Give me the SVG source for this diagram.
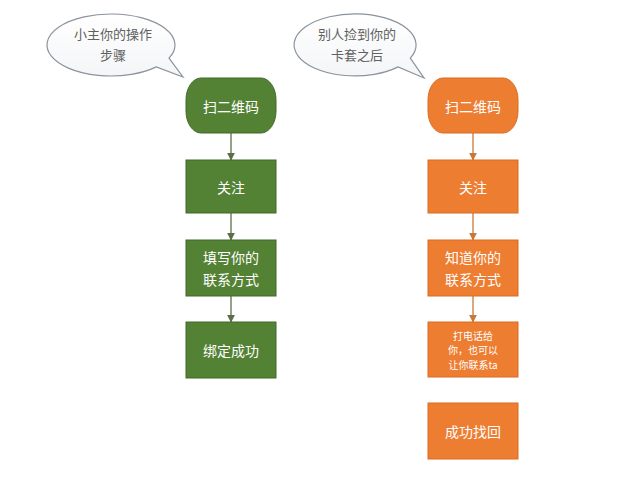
<svg xmlns="http://www.w3.org/2000/svg" width="640" height="480" viewBox="0 0 640 480">
<defs>
<linearGradient id="bub" x1="0" y1="0" x2="0" y2="1">
<stop offset="0" stop-color="#ffffff"/>
<stop offset="1" stop-color="#f4f5f7"/>
</linearGradient>
<marker id="ag" viewBox="0 0 10 10" refX="9" refY="5" markerWidth="8" markerHeight="8" markerUnits="userSpaceOnUse" orient="auto">
<path d="M0,0 L10,5 L0,10 Z" fill="#5b6e48"/>
</marker>
<marker id="ao" viewBox="0 0 10 10" refX="9" refY="5" markerWidth="8" markerHeight="8" markerUnits="userSpaceOnUse" orient="auto">
<path d="M0,0 L10,5 L0,10 Z" fill="#c7793a"/>
</marker>
</defs>
<style>
text{font-family:"Microsoft YaHei","Noto Sans CJK SC","Noto Sans",sans-serif;text-anchor:middle;dominant-baseline:central}
.bub{fill:url(#bub);stroke:#8b939d;stroke-width:1.2}
.bt{fill:#606060;font-size:13px}
.g{fill:#548235;stroke:#43692a;stroke-width:1}
.o{fill:#ed7d31;stroke:#d96c22;stroke-width:1}
.nt{fill:#ffffff;font-size:14px}
.st{fill:#ffffff;font-size:10px}
.cg{stroke:#5b6e48;stroke-width:1.3;fill:none;marker-end:url(#ag)}
.co{stroke:#c7793a;stroke-width:1.3;fill:none;marker-end:url(#ao)}
</style>
<rect width="640" height="480" fill="#ffffff"/>

<g id="callout-left">
<path class="bub" d="M169,58.1 L183,77 L156.3,66.9 A64,31 0 1 1 169,58.1 Z"/>
<text class="bt" x="113" y="33">小主你的操作</text>
<text class="bt" x="113" y="54">步骤</text>
</g>
<g id="callout-right">
<path class="bub" d="M410.3,58.1 L424,78 L398.1,66.9 A61,31 0 1 1 410.3,58.1 Z"/>
<text class="bt" x="357" y="33">别人捡到你的</text>
<text class="bt" x="357" y="54">卡套之后</text>
</g>

<g id="connectors">
<line class="cg" x1="231" y1="133" x2="231" y2="160"/>
<line class="cg" x1="231" y1="213" x2="231" y2="240"/>
<line class="cg" x1="231" y1="296" x2="231" y2="322"/>
<line class="co" x1="473" y1="133" x2="473" y2="160"/>
<line class="co" x1="473" y1="213" x2="473" y2="240"/>
<line class="co" x1="473" y1="296" x2="473" y2="322"/>
</g>

<g id="g-scan">
<path class="g" d="M201,78 H261 A15,22 0 0 1 276,100 V111 A15,22 0 0 1 261,133 H201 A15,22 0 0 1 186,111 V100 A15,22 0 0 1 201,78 Z"/>
<text class="nt" x="231" y="105.5">扫二维码</text>
</g>
<g id="g-follow">
<rect class="g" x="186" y="160" width="90" height="53"/>
<text class="nt" x="231" y="186.5">关注</text>
</g>
<g id="g-fill">
<rect class="g" x="186" y="240" width="90" height="56"/>
<text class="nt" x="231" y="257">填写你的</text>
<text class="nt" x="231" y="279">联系方式</text>
</g>
<g id="g-bind">
<rect class="g" x="186" y="322" width="90" height="56"/>
<text class="nt" x="231" y="350">绑定成功</text>
</g>

<g id="o-scan">
<path class="o" d="M443,78 H503 A15,22 0 0 1 518,100 V111 A15,22 0 0 1 503,133 H443 A15,22 0 0 1 428,111 V100 A15,22 0 0 1 443,78 Z"/>
<text class="nt" x="473" y="105.5">扫二维码</text>
</g>
<g id="o-follow">
<rect class="o" x="428" y="160" width="90" height="53"/>
<text class="nt" x="473" y="186.5">关注</text>
</g>
<g id="o-know">
<rect class="o" x="428" y="240" width="90" height="56"/>
<text class="nt" x="473" y="257">知道你的</text>
<text class="nt" x="473" y="279">联系方式</text>
</g>
<g id="o-call">
<rect class="o" x="428" y="322" width="90" height="55"/>
<text class="st" x="473" y="335">打电话给</text>
<text class="st" x="473" y="349.5">你，也可以</text>
<text class="st" x="473" y="364">让你联系ta</text>
</g>
<g id="o-found">
<rect class="o" x="428" y="403" width="90" height="56"/>
<text class="nt" x="473" y="431">成功找回</text>
</g>
</svg>
